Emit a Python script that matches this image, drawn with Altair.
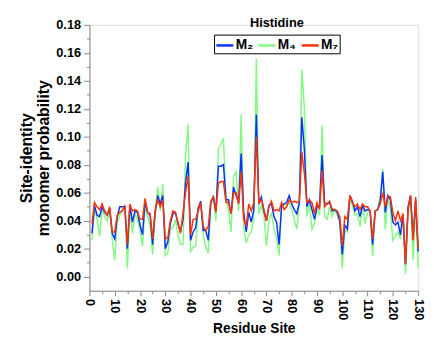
import altair as alt
import pandas as pd

residues = list(range(1, 131))

m2 = [0.031, 0.051, 0.044, 0.043, 0.050, 0.046, 0.044, 0.049, 0.031, 0.027,
      0.043, 0.050, 0.050, 0.050, 0.020, 0.051, 0.039, 0.047, 0.046, 0.037,
      0.030, 0.054, 0.046, 0.044, 0.023, 0.046, 0.058, 0.052, 0.058, 0.020,
      0.025, 0.038, 0.045, 0.046, 0.038, 0.032, 0.041, 0.067, 0.082, 0.026,
      0.032, 0.035, 0.049, 0.054, 0.033, 0.033, 0.026, 0.053, 0.057, 0.047,
      0.079, 0.079, 0.080, 0.055, 0.055, 0.045, 0.064, 0.058, 0.053, 0.088,
      0.046, 0.032, 0.046, 0.039, 0.048, 0.116, 0.052, 0.057, 0.047, 0.040,
      0.051, 0.052, 0.043, 0.039, 0.023, 0.051, 0.052, 0.053, 0.058, 0.052,
      0.048, 0.045, 0.053, 0.114, 0.091, 0.050, 0.055, 0.048, 0.041, 0.050,
      0.051, 0.087, 0.053, 0.052, 0.053, 0.047, 0.048, 0.046, 0.040, 0.016,
      0.037, 0.034, 0.058, 0.054, 0.047, 0.050, 0.043, 0.051, 0.047, 0.048,
      0.047, 0.023, 0.047, 0.048, 0.054, 0.075, 0.046, 0.058, 0.055, 0.039,
      0.037, 0.039, 0.030, 0.045, 0.009, 0.050, 0.058, 0.027, 0.055, 0.018]

m4 = [0.026, 0.048, 0.042, 0.029, 0.048, 0.043, 0.040, 0.048, 0.027, 0.012,
      0.039, 0.044, 0.048, 0.050, 0.006, 0.048, 0.031, 0.045, 0.041, 0.033,
      0.022, 0.051, 0.043, 0.037, 0.016, 0.046, 0.064, 0.047, 0.066, 0.015,
      0.017, 0.034, 0.035, 0.041, 0.030, 0.023, 0.023, 0.086, 0.109, 0.018,
      0.021, 0.022, 0.048, 0.051, 0.030, 0.021, 0.017, 0.053, 0.058, 0.040,
      0.091, 0.095, 0.099, 0.056, 0.048, 0.032, 0.072, 0.075, 0.047, 0.116,
      0.035, 0.024, 0.030, 0.032, 0.041, 0.156, 0.045, 0.051, 0.044, 0.022,
      0.040, 0.046, 0.034, 0.028, 0.015, 0.050, 0.052, 0.051, 0.053, 0.048,
      0.041, 0.034, 0.052, 0.148, 0.121, 0.043, 0.052, 0.034, 0.038, 0.048,
      0.044, 0.108, 0.043, 0.041, 0.050, 0.043, 0.048, 0.044, 0.039, 0.006,
      0.033, 0.032, 0.055, 0.051, 0.044, 0.045, 0.036, 0.050, 0.038, 0.046,
      0.046, 0.015, 0.046, 0.048, 0.058, 0.077, 0.034, 0.057, 0.048, 0.026,
      0.029, 0.032, 0.027, 0.043, 0.002, 0.046, 0.055, 0.012, 0.053, 0.006]

m7 = [0.038, 0.053, 0.050, 0.048, 0.052, 0.047, 0.044, 0.050, 0.032, 0.032,
      0.044, 0.046, 0.047, 0.051, 0.023, 0.052, 0.047, 0.048, 0.047, 0.041,
      0.041, 0.056, 0.046, 0.045, 0.027, 0.048, 0.055, 0.050, 0.055, 0.027,
      0.028, 0.040, 0.047, 0.046, 0.039, 0.031, 0.045, 0.060, 0.072, 0.030,
      0.041, 0.041, 0.047, 0.053, 0.036, 0.033, 0.036, 0.054, 0.057, 0.046,
      0.067, 0.068, 0.068, 0.053, 0.053, 0.045, 0.060, 0.060, 0.052, 0.075,
      0.041, 0.036, 0.052, 0.047, 0.053, 0.100, 0.053, 0.055, 0.048, 0.040,
      0.050, 0.054, 0.047, 0.048, 0.047, 0.053, 0.048, 0.050, 0.055, 0.053,
      0.054, 0.053, 0.054, 0.089, 0.074, 0.053, 0.055, 0.053, 0.045, 0.053,
      0.048, 0.076, 0.050, 0.052, 0.054, 0.048, 0.048, 0.047, 0.043, 0.022,
      0.043, 0.041, 0.058, 0.053, 0.050, 0.052, 0.048, 0.052, 0.050, 0.050,
      0.047, 0.027, 0.047, 0.048, 0.052, 0.060, 0.050, 0.058, 0.057, 0.046,
      0.040, 0.047, 0.040, 0.045, 0.009, 0.048, 0.058, 0.026, 0.057, 0.020]

series_names = ["M\u2082", "M\u2084", "M\u2087"]
series_colors = ["#0a32ff", "#84f884", "#ff3300"]
x_ticks = list(range(0, 131, 5))
y_ticks = [round(k * 0.01, 2) for k in range(0, 19)]

rows = []
for name, vals in zip(series_names, [m2, m4, m7]):
    for r, v in zip(residues, vals):
        rows.append({"residue": r, "value": v, "series": name})
df = pd.DataFrame(rows)

FONT = "Liberation Sans"

x_enc = alt.X(
    "residue:Q",
    scale=alt.Scale(domain=[0, 130], nice=False, zero=False),
    axis=alt.Axis(
        title="Residue Site",
        values=x_ticks,
        labelExpr="datum.value % 10 == 0 ? datum.label : ''",
        labelAngle=90,
        labelAlign="left",
        labelBaseline="middle",
        labelFontSize=13,
        labelFontWeight="bold",
        labelPadding=3,
        tickSize={"condition": {"test": "datum.value % 10 != 0", "value": 3}, "value": 5},
        titleFontSize=14,
        titleFontWeight="bold",
        titlePadding=2,
        grid=False,
    ),
)

y_enc = alt.Y(
    "value:Q",
    scale=alt.Scale(domain=[-0.01, 0.18], nice=False, zero=False),
    axis=alt.Axis(
        title=["Site-identity", "monomer probability"],
        values=y_ticks,
        format=".2f",
        labelExpr="round(datum.value * 100) % 2 == 0 ? datum.label : ''",
        labelFontSize=13,
        labelFontWeight="bold",
        labelPadding=3,
        tickSize={"condition": {"test": "round(datum.value * 100) % 2 != 0", "value": 3}, "value": 6},
        titleFontSize=16,
        titleFontWeight="bold",
        titlePadding=4,
        titleLineHeight=18,
        grid=False,
    ),
)

color_enc = alt.Color(
    "series:N",
    scale=alt.Scale(domain=series_names, range=series_colors),
    legend=alt.Legend(
        title=None,
        orient="none",
        legendX=127,
        legendY=10,
        direction="horizontal",
        symbolType="stroke",
        symbolSize=300,
        symbolStrokeWidth=2.5,
        labelFontSize=14,
        labelFontWeight="bold",
        labelOffset=1,
        labelLimit=22,
        columnPadding=0,
        padding=1,
        strokeColor="black",
        fillColor="white",
    ),
)

layers = []
for name in ["M\u2084", "M\u2082", "M\u2087"]:
    layers.append(
        alt.Chart(df)
        .transform_filter(alt.datum.series == name)
        .mark_line(strokeWidth=1.5)
        .encode(x=x_enc, y=y_enc, color=color_enc, order="residue:Q")
    )

title_df = pd.DataFrame({"t": ["Histidine"]})
title_layer = (
    alt.Chart(title_df)
    .mark_text(font=FONT, fontSize=13, fontWeight="bold", align="center", baseline="middle")
    .encode(text="t:N", x=alt.value(191), y=alt.value(-1.5))
)

chart = (
    alt.layer(*layers, title_layer)
    .properties(
        width=335,
        height=271,
        autosize=alt.AutoSizeParams(type="none"),
        padding={"left": 83, "top": 14, "right": 8, "bottom": 45},
    )
    .configure_view(stroke=None)
    .configure_axis(
        domainColor="black",
        domainWidth=1.5,
        tickColor="black",
        tickWidth=1.2,
        labelColor="black",
        titleColor="black",
        labelFont=FONT,
        titleFont=FONT,
    )
    .configure_legend(labelFont=FONT, labelColor="black")
    .configure(background="white")
)

chart.save("out.html", embed_options={"renderer": "svg", "actions": False})
